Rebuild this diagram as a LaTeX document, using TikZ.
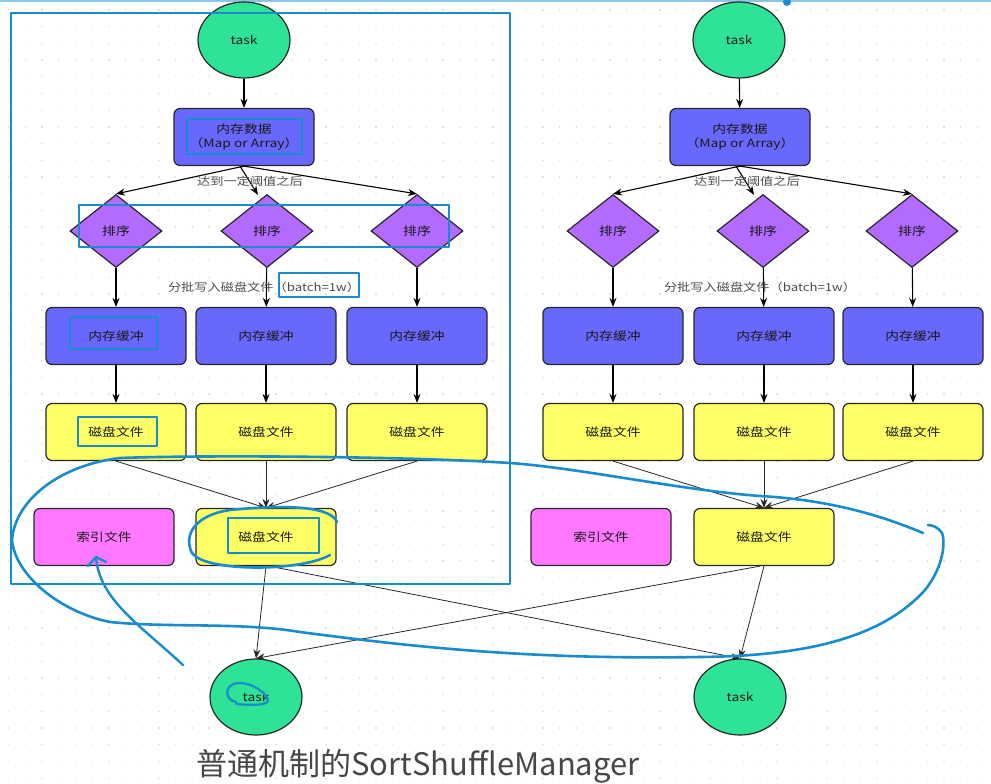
\documentclass[tikz,border=0pt]{standalone}
\usepackage{fontspec}
\setmainfont{Noto Sans CJK SC}
\newfontfamily\wf[FakeStretch=1.2]{Noto Sans CJK SC}
\usetikzlibrary{shapes.geometric,arrows.meta}
\definecolor{taskg}{RGB}{46,226,150}
\definecolor{memb}{RGB}{104,104,252}
\definecolor{diap}{RGB}{178,106,255}
\definecolor{disky}{RGB}{255,255,102}
\definecolor{idxp}{RGB}{255,120,255}
\definecolor{anno}{RGB}{24,140,205}
\definecolor{edgec}{RGB}{40,40,40}
\tikzset{
  base/.style={draw=edgec, line width=1.2pt, font=\wf\fontsize{11.5}{13.5}\selectfont, text=black!90},
  taskn/.style={base, ellipse, fill=taskg, minimum width=92pt, minimum height=76pt, inner sep=0pt},
  memn/.style={base, rounded corners=6pt, fill=memb, minimum width=140pt, minimum height=57pt, align=center},
  dian/.style={base, diamond, fill=diap, minimum width=92pt, minimum height=73pt, inner sep=0pt},
  diskn/.style={base, rounded corners=6pt, fill=disky, minimum width=140pt, minimum height=57pt},
  idxn/.style={base, rounded corners=6pt, fill=idxp, minimum width=140pt, minimum height=57pt},
  arr/.style={draw=black, line width=1.1pt, -{Stealth[length=9pt,width=7pt]}},
  thin/.style={draw=edgec, line width=0.8pt, -{Stealth[length=9pt,width=7pt]}},
  lab/.style={font=\wf\fontsize{11}{13}\selectfont, text=black!70, inner sep=0pt},
  annot/.style={draw=anno, line width=2.6pt, line cap=round, line join=round},
}
\begin{document}
\begin{tikzpicture}[x=1pt,y=-1pt]
\useasboundingbox (0,0) rectangle (991,784);
\fill[white] (0,0) rectangle (991,784);
% dotted grid
\foreach \r in {0,...,46}{
  \draw[black!12, line width=1.3pt, dash pattern=on 1.3pt off 15.4pt] (8,{10+\r*16.7}) -- (991,{10+\r*16.7});
}
% screen edge
\draw[anno!50, line width=2pt] (0,1) -- (991,1);
\fill[anno] (787,2) circle (4);

% ===== LEFT DIAGRAM =====
\node[taskn] (tL) at (244,40) {task};
\node[memn] (mL) at (244,137) {内存数据\\（Map or Array）};
\node[dian] (dL1) at (116,231) {排序};
\node[dian] (dL2) at (267,231) {排序};
\node[dian] (dL3) at (417,231) {排序};
\node[memn] (bL1) at (116,336) {内存缓冲};
\node[memn] (bL2) at (266,336) {内存缓冲};
\node[memn] (bL3) at (417,336) {内存缓冲};
\node[diskn] (fL1) at (116,432) {磁盘文件};
\node[diskn] (fL2) at (266,432) {磁盘文件};
\node[diskn] (fL3) at (417,432) {磁盘文件};
\node[idxn] (iL) at (104,537) {索引文件};
\node[diskn] (gL) at (266,537) {磁盘文件};
\node[taskn] (eL) at (256,697) {task};

\draw[arr] (tL) -- (mL);
\draw[arr] (mL.south) -- (dL1.north);
\draw[arr] ([xshift=-4pt]mL.south) -- ([xshift=-9pt,yshift=-1pt]dL2.north);
\draw[arr] (mL.south) -- (dL3.north);
\node[lab] (aL) at (250,181) {达到一定阈值之后};
\draw[arr] (dL1) -- (bL1);
\draw[arr] (dL2) -- (bL2);
\draw[arr] (dL3) -- (bL3);
\node[lab] (wL) at (264,287) {分批写入磁盘文件（batch=1w）};
\draw[arr] (bL1) -- (fL1);
\draw[arr] (bL2) -- (fL2);
\draw[arr] (bL3) -- (fL3);
\draw[thin] (fL1.south) -- (gL.north);
\draw[thin] (fL2.south) -- (gL.north);
\draw[thin] (fL3.south) -- (gL.north);

% ===== RIGHT DIAGRAM =====
\node[taskn] (tR) at (739,40) {task};
\node[memn] (mR) at (740,137) {内存数据\\（Map or Array）};
\node[dian] (dR1) at (613,231) {排序};
\node[dian] (dR2) at (763,231) {排序};
\node[dian] (dR3) at (912,231) {排序};
\node[memn] (bR1) at (613,336) {内存缓冲};
\node[memn] (bR2) at (764,336) {内存缓冲};
\node[memn] (bR3) at (913,336) {内存缓冲};
\node[diskn] (fR1) at (613,432) {磁盘文件};
\node[diskn] (fR2) at (764,432) {磁盘文件};
\node[diskn] (fR3) at (913,432) {磁盘文件};
\node[idxn] (iR) at (601,537) {索引文件};
\node[diskn] (gR) at (764,537) {磁盘文件};
\node[taskn] (eR) at (740,697) {task};

\draw[arr] (tR) -- (mR);
\draw[arr] (mR.south) -- (dR1.north);
\draw[arr] ([xshift=-4pt]mR.south) -- ([xshift=-9pt,yshift=-1pt]dR2.north);
\draw[arr] (mR.south) -- (dR3.north);
\node[lab] (aR) at (747,181) {达到一定阈值之后};
\draw[arr] (dR1) -- (bR1);
\draw[arr] (dR2) -- (bR2);
\draw[arr] (dR3) -- (bR3);
\node[lab] (wR) at (760,287) {分批写入磁盘文件（batch=1w）};
\draw[arr] (bR1) -- (fR1);
\draw[arr] (bR2) -- (fR2);
\draw[arr] (bR3) -- (fR3);
\draw[thin] (fR1.south) -- (gR.north);
\draw[thin] (fR2.south) -- (gR.north);
\draw[thin] (fR3.south) -- (gR.north);

% bottom cross connections
\draw[thin] (gL.south) -- (eL.north);
\draw[thin] ([xshift=3pt]gL.south) -- (eR.north);
\draw[thin] ([xshift=-4pt]gR.south) -- (eL.north);
\draw[thin] (gR.south) -- (eR.north);

% caption
\node[font=\fontsize{31}{34}\selectfont, text=black!72, inner sep=0pt] (cap) at (418,766) {普通机制的SortShuffleManager};

% ===== ANNOTATIONS =====
\draw[annot] (11,13) rectangle (510,584);
\draw[annot] (187,119) rectangle (302,154);
\draw[annot] (79,205) rectangle (449,247);
\draw[annot] (279,273) rectangle (359,297);
\draw[annot] (70,317) rectangle (157,349);
\draw[annot] (78,417) rectangle (157,446);
\draw[annot] (228,518) rectangle (319,553);
\draw[annot] (337,522) .. controls (330,505) and (280,505) .. (230,510)
  .. controls (195,515) and (183,535) .. (192,553)
  .. controls (205,572) and (300,572) .. (330,555);
% big loop
\draw[annot] (923,533) .. controls (880,515) and (830,500) .. (760,496)
  .. controls (680,490) and (580,468) .. (510,463)
  .. controls (400,456) and (200,455) .. (120,458)
  .. controls (60,465) and (15,500) .. (12,540)
  .. controls (15,575) and (60,612) .. (110,622)
  .. controls (170,628) and (240,622) .. (300,632)
  .. controls (400,645) and (520,660) .. (700,657)
  .. controls (800,656) and (880,640) .. (925,590)
  .. controls (945,565) and (945,540) .. (942,533)
  .. controls (938,527) and (932,525) .. (928,525);
% arrow to index file
\draw[annot, line width=2.4pt] (183,665) .. controls (140,625) and (100,600) .. (96,558);
\draw[annot, line width=2.4pt] (88,566) -- (96,557) -- (106,562);
% squiggle in bottom task
\draw[annot, line width=2.2pt] (236,702) .. controls (224,700) and (224,684) .. (238,683)
  .. controls (252,682) and (268,694) .. (268,701)
  .. controls (266,706) and (248,705) .. (236,704);
\end{tikzpicture}
\end{document}
